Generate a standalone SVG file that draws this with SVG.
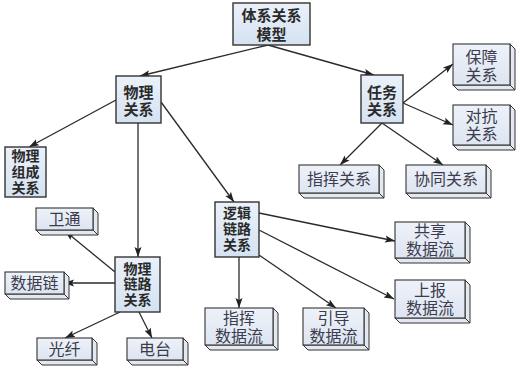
<svg xmlns="http://www.w3.org/2000/svg" width="520" height="372" viewBox="0 0 520 372">
<style>
.b{fill:url(#gb);stroke:#333;stroke-width:1.4}
.f{fill:url(#gf);stroke:#333;stroke-width:1.1}
.s{fill:#e4e8f0;stroke:#333;stroke-width:1}
.tb{font-family:"Liberation Sans","Noto Sans CJK SC",sans-serif;font-weight:700;font-size:15px;fill:#2a2a2a;text-anchor:middle;dominant-baseline:central}
.t3{font-size:14px}
.tf{font-family:"Liberation Sans","Noto Sans CJK SC",sans-serif;font-size:16px;fill:#3c3c4c;text-anchor:middle;dominant-baseline:central}
.c line{stroke:#2a2a2a;stroke-width:1.3;marker-end:url(#ar)}
</style>
<defs>
<linearGradient id="gb" x1="0" y1="0" x2="0" y2="1"><stop offset="0" stop-color="#eaf1fa"/><stop offset="1" stop-color="#d5e2f1"/></linearGradient>
<linearGradient id="gf" x1="0" y1="0" x2="0" y2="1"><stop offset="0" stop-color="#eef2f9"/><stop offset="1" stop-color="#dde5f2"/></linearGradient>
<marker id="ar" markerUnits="userSpaceOnUse" markerWidth="10" markerHeight="10" viewBox="0 0 10 10" refX="10" refY="5" orient="auto"><path d="M0,1.5 L10,5 L0,8.5 L2,5 z" fill="#222"/></marker>
</defs>
<g class="c" id="connectors">
<line x1="268" y1="45" x2="140" y2="76"/>
<line x1="268" y1="45" x2="374" y2="75"/>
<line x1="116" y1="100" x2="29" y2="147"/>
<line x1="138" y1="123" x2="138" y2="257"/>
<line x1="161" y1="102" x2="234" y2="202"/>
<line x1="403" y1="103" x2="453" y2="64"/>
<line x1="403" y1="103" x2="453" y2="125"/>
<line x1="382" y1="123" x2="340" y2="165"/>
<line x1="382" y1="123" x2="443" y2="165"/>
<line x1="259" y1="213" x2="395" y2="241"/>
<line x1="259" y1="230" x2="394" y2="299"/>
<line x1="239" y1="257" x2="239" y2="308"/>
<line x1="259" y1="255" x2="336" y2="308"/>
<line x1="115" y1="272" x2="65" y2="231"/>
<line x1="115" y1="283" x2="64" y2="283"/>
<line x1="120" y1="312" x2="65" y2="338"/>
<line x1="139" y1="312" x2="152" y2="338"/>
</g>
<g id="n-model"><rect class="b" x="233" y="3" width="77" height="42"/><text class="tb" font-size="16"><tspan x="271.5" y="15">体系关系</tspan><tspan x="271.5" y="34">模型</tspan></text></g>
<g id="n-physical"><rect class="b" x="116" y="76" width="45" height="47"/><text class="tb"><tspan x="138.5" y="91.5">物理</tspan><tspan x="138.5" y="108.5">关系</tspan></text></g>
<g id="n-composition"><rect class="b" x="5" y="147" width="41" height="50"/><text class="tb t3"><tspan x="25.5" y="156">物理</tspan><tspan x="25.5" y="171.8">组成</tspan><tspan x="25.5" y="187.6">关系</tspan></text></g>
<g id="n-task"><rect class="b" x="361" y="75" width="42" height="48"/><text class="tb"><tspan x="382" y="91.5">任务</tspan><tspan x="382" y="108.5">关系</tspan></text></g>
<g id="n-phylink"><rect class="b" x="115" y="257" width="45" height="55"/><text class="tb t3"><tspan x="137.5" y="268.5">物理</tspan><tspan x="137.5" y="284.3">链路</tspan><tspan x="137.5" y="300.1">关系</tspan></text></g>
<g id="n-loglink"><rect class="b" x="215" y="202" width="44" height="55"/><text class="tb t3"><tspan x="237" y="213">逻辑</tspan><tspan x="237" y="229">链路</tspan><tspan x="237" y="245">关系</tspan></text></g>

<g id="n-baozhang"><polygon class="s" points="510,44 515,49 515,90 510,85"/><polygon class="s" points="453,85 458,90 515,90 510,85"/><rect class="f" x="453" y="44" width="57" height="41"/><text class="tf"><tspan x="481.5" y="57">保障</tspan><tspan x="481.5" y="75">关系</tspan></text></g>
<g id="n-duikang"><polygon class="s" points="510,105 515,110 515,150 510,145"/><polygon class="s" points="453,145 458,150 515,150 510,145"/><rect class="f" x="453" y="105" width="57" height="40"/><text class="tf"><tspan x="481.5" y="116">对抗</tspan><tspan x="481.5" y="134">关系</tspan></text></g>
<g id="n-zhihui"><polygon class="s" points="379,165 384,170 384,198 379,193"/><polygon class="s" points="299,193 304,198 384,198 379,193"/><rect class="f" x="299" y="165" width="80" height="28"/><text class="tf" x="339" y="179">指挥关系</text></g>
<g id="n-xietong"><polygon class="s" points="486,165 491,170 491,198 486,193"/><polygon class="s" points="406,193 411,198 491,198 486,193"/><rect class="f" x="406" y="165" width="80" height="28"/><text class="tf" x="446" y="179">协同关系</text></g>
<g id="n-weitong"><polygon class="s" points="93,208 98,213 98,235 93,230"/><polygon class="s" points="36,230 41,235 98,235 93,230"/><rect class="f" x="36" y="208" width="57" height="22"/><text class="tf" x="64.5" y="219">卫通</text></g>
<g id="n-shujulian"><polygon class="s" points="64,272 69,277 69,299 64,294"/><polygon class="s" points="5,294 10,299 69,299 64,294"/><rect class="f" x="5" y="272" width="59" height="22"/><text class="tf" x="34.5" y="283">数据链</text></g>
<g id="n-guangxian"><polygon class="s" points="92,338 97,343 97,365 92,360"/><polygon class="s" points="37,360 42,365 97,365 92,360"/><rect class="f" x="37" y="338" width="55" height="22"/><text class="tf" x="64.5" y="349">光纤</text></g>
<g id="n-diantai"><polygon class="s" points="183,338 188,343 188,365 183,360"/><polygon class="s" points="127,360 132,365 188,365 183,360"/><rect class="f" x="127" y="338" width="56" height="22"/><text class="tf" x="155" y="349">电台</text></g>
<g id="n-gongxiang"><polygon class="s" points="465,222 470,227 470,263 465,258"/><polygon class="s" points="395,258 400,263 470,263 465,258"/><rect class="f" x="395" y="222" width="70" height="36"/><text class="tf"><tspan x="430" y="231">共享</tspan><tspan x="430" y="249">数据流</tspan></text></g>
<g id="n-shangbao"><polygon class="s" points="465,280 470,285 470,323 465,318"/><polygon class="s" points="395,318 400,323 470,323 465,318"/><rect class="f" x="395" y="280" width="70" height="38"/><text class="tf"><tspan x="430" y="290">上报</tspan><tspan x="430" y="308">数据流</tspan></text></g>
<g id="n-zhihuiflow"><polygon class="s" points="273,308 278,313 278,350 273,345"/><polygon class="s" points="205,345 210,350 278,350 273,345"/><rect class="f" x="205" y="308" width="68" height="37"/><text class="tf"><tspan x="239" y="318">指挥</tspan><tspan x="239" y="336">数据流</tspan></text></g>
<g id="n-yindao"><polygon class="s" points="364,308 369,313 369,350 364,345"/><polygon class="s" points="303,345 308,350 369,350 364,345"/><rect class="f" x="303" y="308" width="61" height="37"/><text class="tf"><tspan x="333.5" y="318">引导</tspan><tspan x="333.5" y="336">数据流</tspan></text></g>
</svg>
